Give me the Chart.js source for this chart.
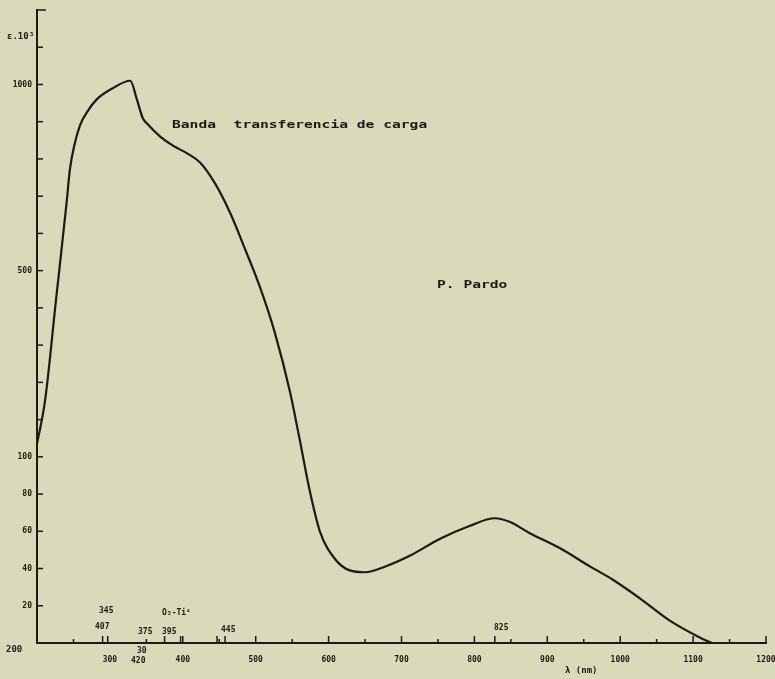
<!DOCTYPE html>
<html>
<head>
<meta charset="utf-8">
<script src="https://cdn.jsdelivr.net/npm/chart.js@4.4.1/dist/chart.umd.min.js"></script>
<style>
  html, body { margin: 0; padding: 0; background: #d9dab9; }
  #wrap { width: 775px; height: 679px; position: relative; }
</style>
</head>
<body>
<div id="wrap"><canvas id="spectrum"></canvas></div>
<script>
// --- Data ---
// wavelength in nm
const lambda = [200, 211, 226, 241, 245, 251, 259, 270, 282, 304, 328, 337, 345, 351, 369, 387, 406, 424,
    444, 465, 485, 506, 526, 547, 561, 574, 588, 609, 629, 650, 677, 712, 753, 794, 828, 849, 876,
    917, 959, 990, 1027, 1068, 1109, 1126];
// absorbance in lower-scale units (20 per division)
const absorb = [107, 130, 184, 238, 254, 267, 278, 286, 292, 298, 302, 292, 282, 279, 272, 267, 263, 258,
    247, 231, 212, 191, 167, 135, 108, 82, 60, 45, 39, 38, 41, 47, 56, 63, 67, 65, 59,
    51, 41, 34, 24, 12, 3, 0];

// tick labels as printed on the axes
const xTickLabels = ['200', '300', '400', '500', '600', '700', '800', '900', '1000', '1100', '1200'];
const yTickLabels = { 20: '20', 40: '40', 60: '60', 80: '80', 100: '100', 200: '500', 300: '1000' };

// wavelengths marked with small strokes on the baseline
const markedLambda = [290, 297, 375, 397, 447, 458, 828];
const markedText = ['345', '407', '375', '395', 'O\u2083-Ti\u2074', '445', '825', '30', '420'];

const ink = '#1f1813';
const mono = '"DejaVu Sans Mono", monospace';

// typewriter text: stretch a bold mono face to the wide pitch of the scan
const typeText = (ctx, text, x, y, pitch) => {
    ctx.save();
    const w = ctx.measureText('M').width;
    ctx.translate(x, y);
    ctx.scale(pitch / w, 1);
    ctx.fillText(text, 0, 0);
    ctx.restore();
};

// --- Extra drawing: inward ticks and typed notes ---
const notesPlugin = {
    id: 'notes',
    afterDraw(chart) {
        const { ctx, chartArea: area, scales: { x, y } } = chart;
        ctx.save();
        ctx.strokeStyle = ink;
        ctx.lineWidth = 1.5;

        // y ticks point into the plot
        for (let v = 20; v <= 320; v += 20) {
            const py = y.getPixelForValue(v);
            ctx.beginPath();
            ctx.moveTo(area.left, py);
            ctx.lineTo(area.left + 6, py);
            ctx.stroke();
        }
        // cap on top of the y axis
        ctx.beginPath();
        ctx.moveTo(area.left - 1, area.top);
        ctx.lineTo(area.left + 9, area.top);
        ctx.stroke();

        // x ticks point up, longer every 100 nm
        for (let v = 250; v <= 1200; v += 50) {
            if (v === 300) continue;
            const px = x.getPixelForValue(v);
            const len = v % 100 === 0 ? 7 : 4;
            ctx.beginPath();
            ctx.moveTo(px, area.bottom);
            ctx.lineTo(px, area.bottom - len);
            ctx.stroke();
        }
        markedLambda.forEach(l => {
            const px = x.getPixelForValue(l);
            ctx.beginPath();
            ctx.moveTo(px, area.bottom);
            ctx.lineTo(px, area.bottom - 7);
            ctx.stroke();
        });

        ctx.fillStyle = ink;
        ctx.textBaseline = 'middle';
        ctx.textAlign = 'left';
        ctx.font = 'bold 11px ' + mono;
        typeText(ctx, 'Banda  transferencia de carga', 172, y.getPixelForValue(278), 8.8);
        typeText(ctx, 'P. Pardo', 437, y.getPixelForValue(192), 8.8);

        ctx.font = 'bold 9px ' + mono;
        ctx.fillText('\u03b5.10\u00b3', 7, 37);
        ctx.fillText(xTickLabels[0], 6, 650);

        ctx.font = 'bold 8px ' + mono;
        const base = area.bottom;
        ctx.fillText(markedText[0], 99, base - 32);
        ctx.fillText(markedText[1], 95, base - 16);
        ctx.fillText(markedText[2], 138, base - 11);
        ctx.fillText(markedText[3], 162, base - 11);
        ctx.fillText(markedText[4], 162, base - 30);
        ctx.fillText(markedText[5], 221, base - 13);
        ctx.fillText(markedText[6], 494, base - 15);
        ctx.fillText(markedText[7], 137, base + 8);
        ctx.fillText(markedText[8], 131, base + 18);

        ctx.font = 'bold 9px ' + mono;
        ctx.fillText('\u03bb (nm)', 565, base + 28);
        ctx.restore();
    }
};

new Chart(document.getElementById('spectrum'), {
    type: 'line',
    data: {
        datasets: [{
            data: lambda.map((l, i) => ({ x: l, y: absorb[i] })),
            borderColor: ink,
            borderWidth: 2.2,
            pointRadius: 0,
            cubicInterpolationMode: 'monotone',
            fill: false
        }]
    },
    options: {
        responsive: true,
        maintainAspectRatio: false,
        animation: false,
        layout: { padding: { top: 10, right: 9, left: 0, bottom: 0 } },
        plugins: { legend: { display: false }, tooltip: { enabled: false } },
        scales: {
            x: {
                type: 'linear',
                min: 200,
                max: 1200,
                afterFit: s => { s.height = 36; s.paddingRight = 0; s.paddingLeft = 0; },
                grid: { display: false, drawTicks: false },
                border: { color: ink, width: 2 },
                ticks: {
                    stepSize: 100,
                    maxRotation: 0,
                    autoSkip: false,
                    padding: 12,
                    color: ink,
                    font: { family: 'DejaVu Sans Mono', size: 8, weight: 'bold' },
                    callback: v => v === 200 ? '' : (xTickLabels[(v - 200) / 100] ?? '')
                }
            },
            y: {
                min: 0,
                max: 340,
                afterFit: s => { s.width = 37; },
                grid: { display: false, drawTicks: false },
                border: { color: ink, width: 2 },
                ticks: {
                    stepSize: 20,
                    autoSkip: false,
                    padding: 5,
                    color: ink,
                    font: { family: 'DejaVu Sans Mono', size: 8, weight: 'bold' },
                    callback: v => yTickLabels[v] ?? ''
                }
            }
        }
    },
    plugins: [notesPlugin]
});
</script>
</body>
</html>
